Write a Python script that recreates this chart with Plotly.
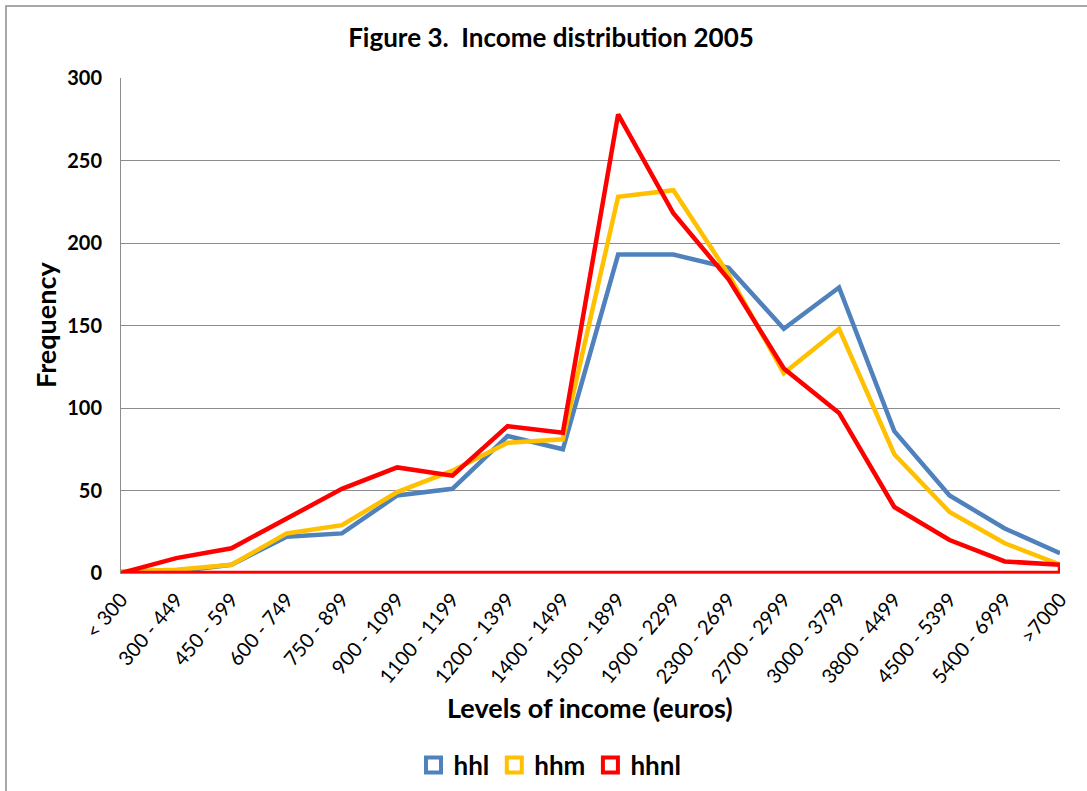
import plotly.graph_objects as go

# Income brackets (euros) and household counts per group
categories = ["< 300", "300 - 449", "450 - 599", "600 - 749", "750 - 899",
              "900 - 1099", "1100 - 1199", "1200 - 1399", "1400 - 1499",
              "1500 - 1899", "1900 - 2299", "2300 - 2699", "2700 - 2999",
              "3000 - 3799", "3800 - 4499", "4500 - 5399", "5400 - 6999", ">7000"]
hhl = [0, 1, 5, 22, 24, 47, 51, 83, 75, 193, 193, 185, 148, 173, 86, 47, 27, 12]
hhm = [1, 2, 5, 24, 29, 49, 62, 79, 81, 228, 232, 181, 121, 148, 72, 37, 18, 5]
hhnl = [0, 9, 15, 33, 51, 64, 59, 89, 85, 278, 218, 178, 124, 97, 40, 20, 7, 5]

y_ticks = [0, 50, 100, 150, 200, 250, 300]

series = [
    ("hhl", hhl, "#4F81BD"),
    ("hhm", hhm, "#FFC000"),
    ("hhnl", hhnl, "#FF0000"),
]

FONT = "Lato"
W, H = 1087, 791
L, R, T, B = 121, 27, 78, 218
PW, PH = W - L - R, H - T - B

fig = go.Figure()

for name, vals, color in series:
    xs = list(categories)
    ys = list(vals)
    if name == "hhnl":
        # the hhnl outline closes back along the baseline
        xs += [categories[-1], categories[0]]
        ys += [0, 0]
    fig.add_trace(go.Scatter(
        x=xs, y=ys, mode="lines", name=name, showlegend=False,
        line=dict(color=color, width=4.5), hoverinfo="skip",
    ))

# legend entries drawn as hollow squares
for name, vals, color in series:
    fig.add_trace(go.Scatter(
        x=[None], y=[None], mode="markers", name=name,
        marker=dict(symbol="square-open", size=15, color=color,
                    line=dict(width=4, color=color)),
    ))

fig.update_layout(
    width=W, height=H,
    margin=dict(l=L, r=R, t=T, b=B, autoexpand=False),
    paper_bgcolor="white", plot_bgcolor="white",
    font=dict(family=FONT, color="black"),
    title=dict(text="Figure 3.  Income distribution 2005",
               x=551 / W, xanchor="center", xref="container",
               y=1 - 38 / H, yanchor="middle",
               font=dict(size=26, family=FONT, weight="bold")),
    legend=dict(orientation="h", x=(550 - L) / PW, xanchor="center",
                y=-(765 - (T + PH)) / PH, yanchor="middle",
                font=dict(size=26, family=FONT, weight="bold"),
                itemwidth=30, tracegroupgap=0),
    xaxis=dict(
        type="category", categoryorder="array", categoryarray=categories,
        range=[0, len(categories) - 1], automargin=False,
        tickangle=-50, tickfont=dict(size=20, family=FONT),
        showgrid=False, showline=True, linecolor="#868686", linewidth=1,
        ticks="outside", ticklen=6, tickcolor="rgba(0,0,0,0)", zeroline=False,
    ),
    yaxis=dict(
        range=[0, 300], tickvals=y_ticks, automargin=False,
        tickfont=dict(size=20, family=FONT, weight="bold"), ticklabelstandoff=14,
        showgrid=True, gridcolor="#8C8C8C", gridwidth=1,
        showline=True, linecolor="#8C8C8C", linewidth=1,
        zeroline=False, ticks="",
    ),
    annotations=[
        dict(text="Levels of income (euros)", xref="paper", yref="paper",
             x=(590 - L) / PW, y=-(707 - (T + PH)) / PH,
             xanchor="center", yanchor="middle", showarrow=False,
             font=dict(size=27, family=FONT, weight="bold")),
        dict(text="Frequency", xref="paper", yref="paper",
             x=-(L - 45) / PW, y=(T + PH - 325) / PH, textangle=-90,
             xanchor="center", yanchor="middle", showarrow=False,
             font=dict(size=27, family=FONT, weight="bold")),
    ],
    shapes=[dict(type="rect", xref="paper", yref="paper",
                 x0=-(L - 6) / PW, x1=1.1, y0=-1, y1=(T + PH - 6) / PH,
                 line=dict(color="#8C8C8C", width=1.5), layer="below")],
)

fig.write_html("out.html")
